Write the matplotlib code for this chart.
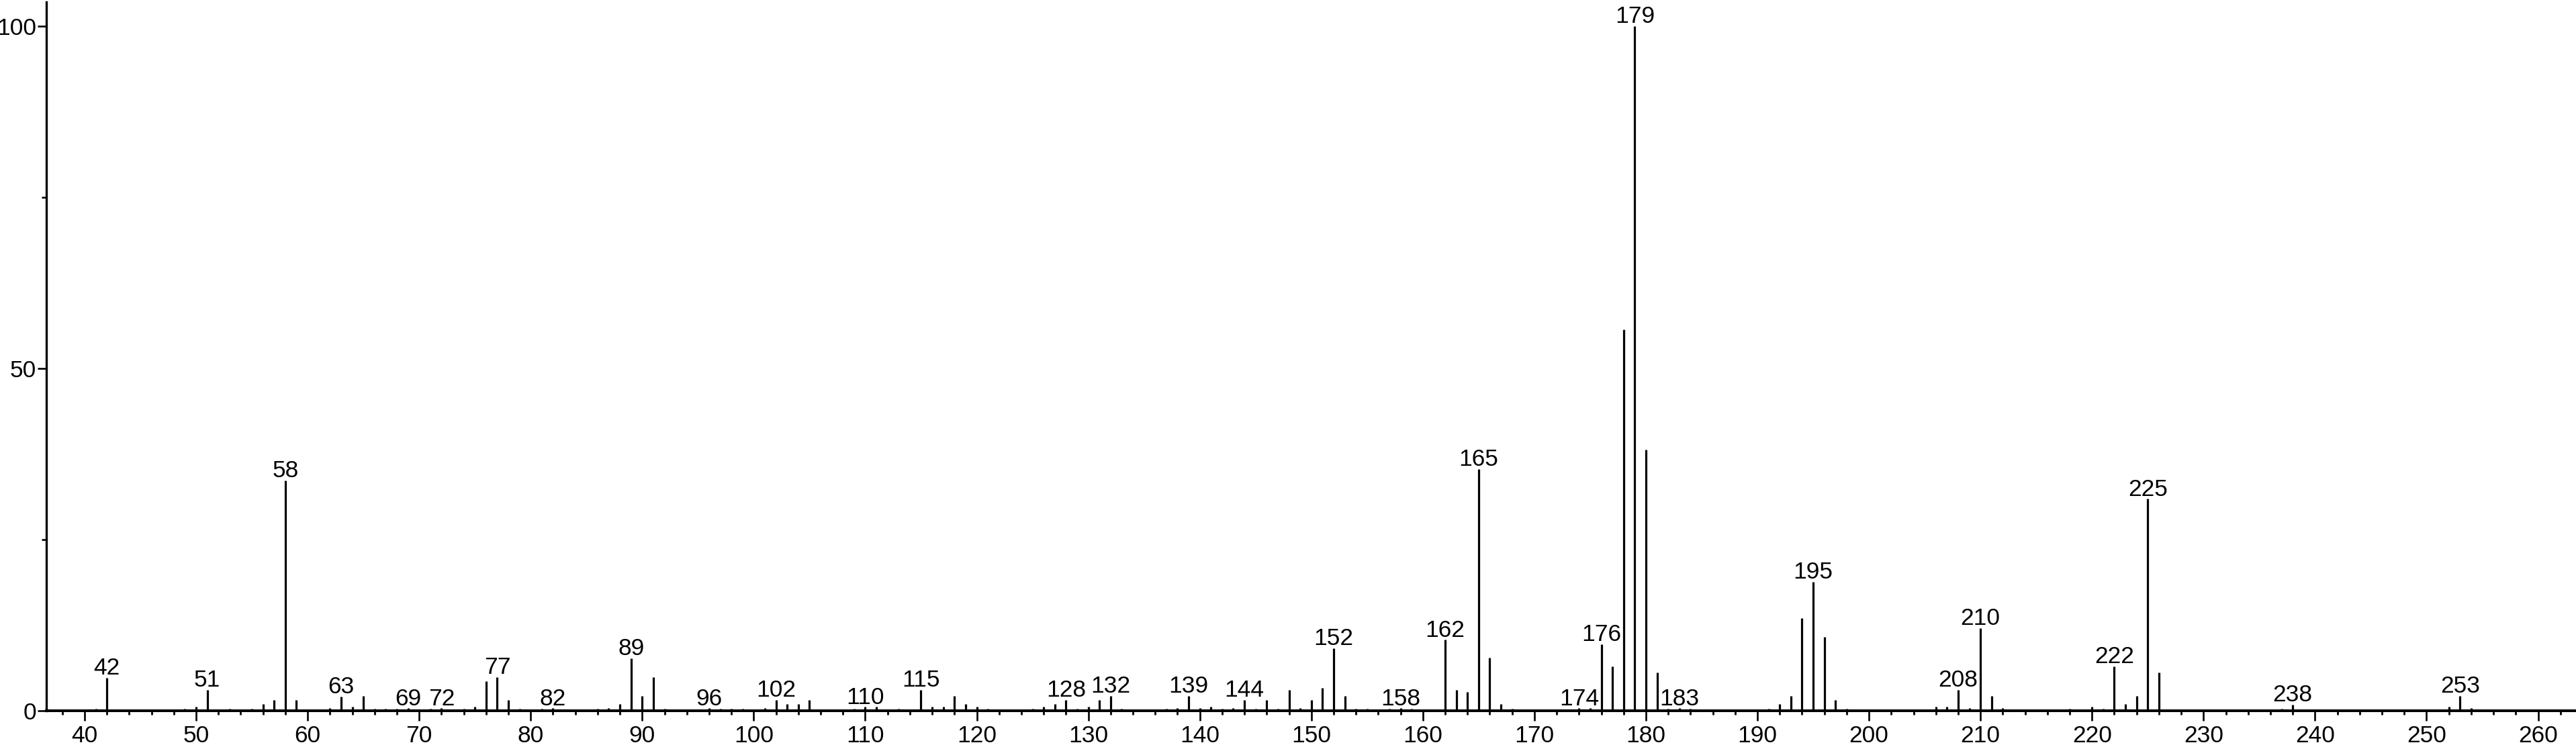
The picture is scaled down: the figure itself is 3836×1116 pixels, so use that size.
import matplotlib
matplotlib.use("Agg")
import matplotlib.pyplot as plt
from matplotlib.ticker import MultipleLocator

plt.rcParams['font.family'] = ['Liberation Sans', 'DejaVu Sans']

# m/z values and relative intensities (%)
mz = [41, 42, 49, 50, 51, 53, 55, 56, 57, 58, 59, 62, 63, 64, 65, 66, 67, 68, 69, 71, 72, 74,
      75, 76, 77, 78, 79, 81, 82, 86, 87, 88, 89, 90, 91, 92, 96, 97, 98, 99, 101, 102, 103,
      104, 105, 109, 110, 111, 113, 115, 116, 117, 118, 119, 120, 121, 125, 126, 127, 128, 129,
      130, 131, 132, 133, 137, 138, 139, 140, 141, 142, 143, 144, 145, 146, 147, 148, 149, 150,
      151, 152, 153, 154, 155, 157, 158, 159, 162, 163, 164, 165, 166, 167, 168, 174, 175, 176,
      177, 178, 179, 180, 181, 182, 183, 184, 191, 192, 193, 194, 195, 196, 197, 198, 206, 207,
      208, 209, 210, 211, 212, 218, 220, 221, 222, 223, 224, 225, 226, 237, 238, 252, 253, 254]
intensity = [0.2, 4.8, 0.2, 0.5, 3.0, 0.2, 0.2, 0.9, 1.5, 33.6, 1.5, 0.3, 2.0, 0.55, 2.1, 0.2, 0.2, 0.2, 0.3, 0.2, 0.3, 0.2,
             0.5, 4.25, 4.9, 1.5, 0.2, 0.2, 0.3, 0.2, 0.3, 0.9, 7.6, 2.1, 4.9, 0.2, 0.3, 0.2, 0.2, 0.2, 0.3, 1.5, 0.9,
             0.9, 1.5, 0.2, 0.5, 0.5, 0.2, 3.0, 0.55, 0.55, 2.1, 0.9, 0.5, 0.2, 0.2, 0.5, 0.9, 1.5, 0.2,
             0.5, 1.5, 2.1, 0.2, 0.2, 0.3, 2.1, 0.3, 0.5, 0.2, 0.3, 1.5, 0.2, 1.5, 0.2, 3.0, 0.3, 1.5,
             3.3, 9.1, 2.1, 0.2, 0.2, 0.2, 0.3, 0.2, 10.3, 3.0, 2.7, 35.3, 7.65, 0.9, 0.2, 0.3, 0.3, 9.7,
             6.4, 55.6, 100.0, 38.1, 5.5, 0.2, 0.3, 0.2, 0.2, 0.9, 2.1, 13.5, 18.8, 10.7, 1.5, 0.2, 0.55, 0.55,
             3.0, 0.3, 12.0, 2.1, 0.3, 0.2, 0.5, 0.2, 6.4, 0.9, 2.1, 30.9, 5.5, 0.2, 0.85, 0.5, 2.1, 0.3]
labeled_mz = [42, 51, 58, 63, 69, 72, 77, 82, 89, 96, 102, 110, 115, 128, 132, 139, 144, 152,
              158, 162, 165, 174, 176, 179, 183, 195, 208, 210, 222, 225, 238, 253]

x_ticks = list(range(40, 261, 10))
y_ticks = [0, 50, 100]

W, H, DPI = 3836, 1116, 100
fig = plt.figure(figsize=(W / DPI, H / DPI), dpi=DPI)
ax = fig.add_axes([69 / W, (H - 1058.5) / H, 1 - 69 / W, (1058.5 - 3) / H])

ax.vlines(mz, 0, intensity, colors='black', linewidth=2.3)

lookup = dict(zip(mz, intensity))
for m in labeled_mz:
    ax.annotate(str(m), xy=(m, lookup[m]), xytext=(0, 3.5), textcoords='offset points',
                ha='center', va='baseline', fontsize=25.5, color='black')

ax.set_xlim(36.57, 263.4)
ax.set_ylim(0, 103.5)

ax.set_xticks(x_ticks)
ax.set_xticklabels([str(t) for t in x_ticks])
ax.xaxis.set_minor_locator(MultipleLocator(2))
ax.set_yticks(y_ticks)
ax.set_yticklabels([str(t) for t in y_ticks])
ax.yaxis.set_minor_locator(MultipleLocator(25))

for s in ['top', 'right']:
    ax.spines[s].set_visible(False)
ax.spines['left'].set_linewidth(2.4)
ax.spines['bottom'].set_linewidth(2.9)

ax.tick_params(axis='x', which='major', direction='out', length=10.8, width=1.9,
               labelsize=25.5, pad=5.0)
ax.tick_params(axis='x', which='minor', direction='out', length=4.5, width=2.0)
ax.tick_params(axis='y', which='major', direction='out', length=9.4, width=1.9,
               labelsize=25.5, pad=1.5)
ax.tick_params(axis='y', which='minor', direction='out', length=5, width=1.9)

fig.savefig('out.png', dpi=DPI, facecolor='white')
